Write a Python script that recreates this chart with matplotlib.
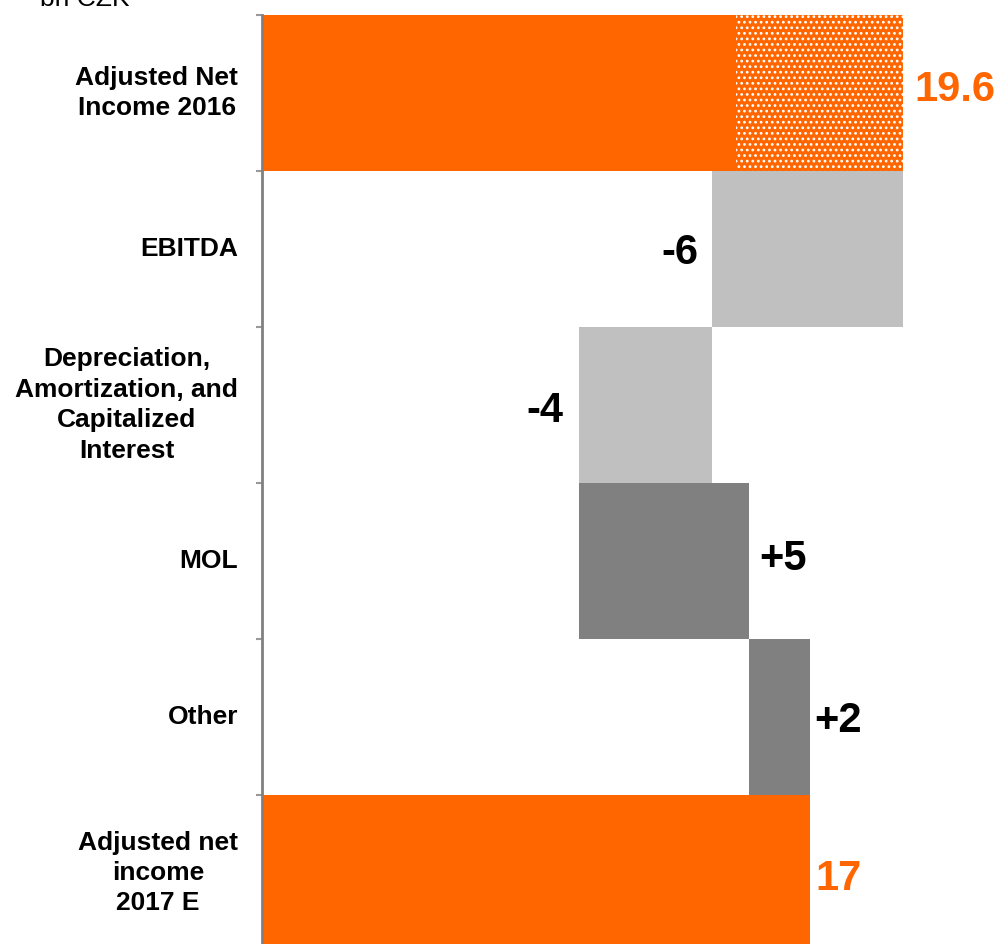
import matplotlib
matplotlib.use("Agg")
import matplotlib.pyplot as plt

# ---------- data ----------
categories = ["Adjusted Net\nIncome 2016", "EBITDA",
              "Depreciation,\nAmortization, and\nCapitalized\nInterest",
              "MOL", "Other", "Adjusted net\nincome\n2017 E"]
start_value = 19.6
start_solid = 14.5          # part of 2016 shown solid, rest dotted
deltas = [-5.85, -4.05, 5.2, 1.85]
value_labels = ["19.6", "-6", "-4", "+5", "+2", "17"]

orange = "#FF6600"
light_gray = "#C0C0C0"
dark_gray = "#808080"

plt.rcParams['font.family'] = ['Liberation Sans', 'DejaVu Sans']
plt.rcParams['hatch.linewidth'] = 1.2

fig = plt.figure(figsize=(9.96, 9.44), dpi=100)
W, H = 996, 944
ax = fig.add_axes([262 / W, 0, (W - 262) / W, (H - 15) / H])

px = 32.7  # pixels per unit
ax.set_xlim(0, (W - 262) / px)
row_px = 156
rows_visible = (H - 15) / row_px
ax.set_ylim(rows_visible - 0.5, -0.5)

num_font = dict(fontsize=30, fontweight="bold")
# small vertical nudges of the value labels (pixels, + = down)
nudge = [-3, 4, 6, -2, 4, 6]

# first bar
ax.barh(0, start_solid, height=1.0, color=orange, linewidth=0)
ax.barh(0, start_value - start_solid, left=start_solid, height=1.0,
        color=orange, edgecolor="white", hatch="...", linewidth=0)
ax.text(start_value + 11 / px, nudge[0] / row_px, value_labels[0], color=orange,
        ha="left", va="center", **num_font)

# deltas
level = start_value
gaps = [13, 16, 10, 5]
for i, d in enumerate(deltas):
    row = i + 1
    new_level = level + d
    left = min(level, new_level)
    col = light_gray if d < 0 else dark_gray
    ax.barh(row, abs(d), left=left, height=1.0, color=col, linewidth=0)
    y = row + nudge[row] / row_px
    if d < 0:
        ax.text(left - gaps[i] / px, y, value_labels[row], color="black",
                ha="right", va="center", **num_font)
    else:
        ax.text(left + abs(d) + gaps[i] / px, y, value_labels[row],
                color="black", ha="left", va="center", **num_font)
    level = new_level

# final bar
ax.barh(5, level, height=1.0, color=orange, linewidth=0)
ax.text(level + 6 / px, 5 + nudge[5] / row_px, value_labels[5], color=orange,
        ha="left", va="center", **num_font)

# axes styling
for s in ["top", "right", "bottom"]:
    ax.spines[s].set_visible(False)
ax.spines["left"].set_color(dark_gray)
ax.spines["left"].set_linewidth(2)
ax.spines["left"].set_bounds(-0.5, rows_visible - 0.5)
ax.set_xticks([])
ax.set_yticks([r - 0.5 for r in range(6)])
ax.set_yticklabels([])
ax.tick_params(axis="y", length=4.5, width=1.5, color="#999999")
for r, lab in enumerate(categories):
    ax.text(-24 / px, r, lab, ha="right", va="center", multialignment="center",
            fontsize=19, fontweight="bold", linespacing=1.34)

fig.text(40 / W, 1 - 6 / H, "bn CZK", fontsize=19, ha="left", va="baseline")

fig.savefig("out.png", dpi=100)
